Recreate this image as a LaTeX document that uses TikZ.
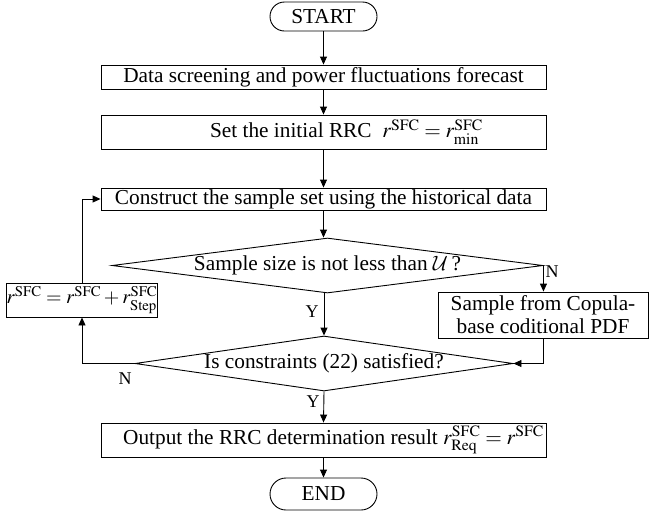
\documentclass[tikz,border=0pt]{standalone}
\usepackage{mathptmx}
\DeclareMathAlphabet{\mathcal}{OMS}{cmsy}{m}{n}
\usepackage{fontspec}
\setmainfont{Liberation Serif}
\usetikzlibrary{shapes.geometric,shapes.misc,arrows.meta}
\begin{document}
\begin{tikzpicture}[x=1pt,y=-1pt,
  every node/.style={font=\fontsize{21.3}{23}\selectfont, inner sep=0pt},
  term/.style={draw, rounded rectangle, minimum width=107pt},
  procbox/.style={draw, rectangle},
  decision/.style={draw, diamond},
  lbl/.style={font=\fontsize{18}{20}\selectfont},
  conn/.style={line width=0.9pt, -{Triangle[length=8pt,width=7pt]}},
  line width=0.9pt]
\useasboundingbox (0,0) rectangle (651,512);

\node[term, minimum height=29pt] (start) at (323.5,16.5) {START};
\node[procbox, minimum width=445pt, minimum height=24pt] (box1) at (323.5,77) {Data screening and power fluctuations forecast};
\node[procbox, minimum width=445pt, minimum height=34pt] (box2) at (323.5,132) {\hspace*{46pt}Set the initial RRC\ \ $r^{\mathrm{SFC}}=r^{\mathrm{SFC}}_{\min}$};
\node[procbox, minimum width=445pt, minimum height=22pt] (box3) at (323.5,199) {Construct the sample set using the historical data};
\node[decision, aspect=7.8, minimum width=431pt, minimum height=55pt] (d1) at (327.5,265.5) {Sample size is not less than $\mathcal{U}$\,?};
\node[procbox, minimum width=210pt, minimum height=46pt, align=center] (sample) at (543,315) {Sample from Copula-\\base coditional PDF};
\node[procbox, minimum width=150pt, minimum height=34pt, font=\fontsize{20}{22}\selectfont] (rbox) at (82,300) {$r^{\mathrm{SFC}}=r^{\mathrm{SFC}}+r^{\mathrm{SFC}}_{\mathrm{Step}}$};
\node[decision, aspect=6.9, minimum width=378pt, minimum height=55pt] (d2) at (324,363.5) {Is constraints (22) satisfied?};
\node[procbox, minimum width=445pt, minimum height=34pt] (out) at (323.5,440) {\hspace*{20pt}Output the RRC determination result $r^{\mathrm{SFC}}_{\mathrm{Req}}=r^{\mathrm{SFC}}$};
\node[term, minimum height=32pt] (end) at (323.5,494) {END};

\draw[conn] (start.south) -- (box1.north);
\draw[conn] (box1.south) -- (box2.north);
\draw[conn] (box2.south) -- (box3.north);
\draw[conn] (box3.south) -- (box3.south |- d1.north);
\draw[conn] (d1.south -| d2.north) -- (d2.north);
\draw[conn] (d1.east) -- (d1.east |- sample.north);
\draw[conn] (sample.south) |- (d2.east);
\draw[conn] (d2.west) -| (rbox.south);
\draw[conn] (rbox.north) |- (box3.west);
\draw[conn] (d2.south) -- (out.north);
\draw[conn] (out.south) -- (end.north);

\node[lbl] (n1) at (552,272) {N};
\node[lbl] (y1) at (312,312) {Y};
\node[lbl] (n2) at (125,379) {N};
\node[lbl] (y2) at (313,402) {Y};
\end{tikzpicture}
\end{document}
